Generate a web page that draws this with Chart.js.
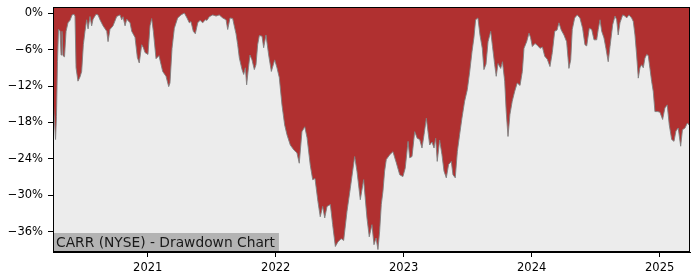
<!DOCTYPE html>
<html>
<head>
<meta charset="utf-8">
<script src="https://cdn.jsdelivr.net/npm/chart.js@4/dist/chart.umd.min.js"></script>
<style>
  html, body { margin: 0; padding: 0; background: #ffffff; }
  #wrap { width: 700px; height: 280px; position: relative; }
</style>
</head>
<body>
<div id="wrap"><canvas id="c" width="700" height="280"></canvas></div>
<script>
// Decimal-year dates (x) and drawdown in percent (y)
const years = [
  2020.260, 2020.272, 2020.280, 2020.287, 2020.295, 2020.303, 2020.315, 2020.323, 2020.330, 2020.338,
  2020.350, 2020.362, 2020.377, 2020.393, 2020.409, 2020.424, 2020.432, 2020.440, 2020.455, 2020.471,
  2020.484, 2020.497, 2020.510, 2020.523, 2020.534, 2020.549, 2020.562, 2020.573, 2020.596, 2020.612,
  2020.627, 2020.651, 2020.680, 2020.690, 2020.705, 2020.729, 2020.758, 2020.784, 2020.797, 2020.807,
  2020.823, 2020.836, 2020.862, 2020.875, 2020.901, 2020.919, 2020.934, 2020.953, 2020.966, 2020.979,
  2021.002, 2021.018, 2021.031, 2021.044, 2021.065, 2021.088, 2021.117, 2021.143, 2021.164, 2021.174,
  2021.190, 2021.208, 2021.234, 2021.260, 2021.286, 2021.307, 2021.325, 2021.338, 2021.356, 2021.372,
  2021.391, 2021.409, 2021.430, 2021.450, 2021.463, 2021.481, 2021.508, 2021.534, 2021.559, 2021.586,
  2021.612, 2021.625, 2021.643, 2021.664, 2021.676, 2021.690, 2021.703, 2021.716, 2021.737, 2021.750,
  2021.763, 2021.773, 2021.787, 2021.799, 2021.815, 2021.833, 2021.846, 2021.859, 2021.872, 2021.893,
  2021.906, 2021.924, 2021.945, 2021.966, 2021.992, 2022.010, 2022.028, 2022.049, 2022.070, 2022.088,
  2022.114, 2022.141, 2022.166, 2022.184, 2022.205, 2022.227, 2022.245, 2022.270, 2022.289, 2022.307,
  2022.330, 2022.348, 2022.367, 2022.383, 2022.401, 2022.427, 2022.445, 2022.466, 2022.487, 2022.512,
  2022.531, 2022.557, 2022.583, 2022.617, 2022.635, 2022.661, 2022.687, 2022.713, 2022.731, 2022.752,
  2022.768, 2022.784, 2022.799, 2022.812, 2022.825, 2022.838, 2022.851, 2022.864, 2022.891, 2022.916,
  2022.942, 2022.969, 2022.994, 2023.012, 2023.034, 2023.047, 2023.065, 2023.086, 2023.106, 2023.125,
  2023.143, 2023.159, 2023.177, 2023.190, 2023.203, 2023.221, 2023.237, 2023.250, 2023.262, 2023.281,
  2023.299, 2023.315, 2023.333, 2023.351, 2023.372, 2023.385, 2023.403, 2023.419, 2023.437, 2023.455,
  2023.476, 2023.497, 2023.516, 2023.534, 2023.549, 2023.562, 2023.580, 2023.596, 2023.614, 2023.627,
  2023.643, 2023.659, 2023.680, 2023.694, 2023.711, 2023.723, 2023.737, 2023.758, 2023.772, 2023.789,
  2023.801, 2023.815, 2023.830, 2023.848, 2023.867, 2023.887, 2023.909, 2023.927, 2023.940, 2023.961,
  2023.979, 2023.991, 2024.005, 2024.026, 2024.044, 2024.065, 2024.084, 2024.102, 2024.122, 2024.143,
  2024.161, 2024.180, 2024.198, 2024.213, 2024.231, 2024.252, 2024.273, 2024.291, 2024.305, 2024.317,
  2024.336, 2024.356, 2024.377, 2024.398, 2024.416, 2024.430, 2024.450, 2024.469, 2024.487, 2024.508,
  2024.520, 2024.534, 2024.547, 2024.565, 2024.580, 2024.598, 2024.612, 2024.633, 2024.651, 2024.664,
  2024.676, 2024.690, 2024.711, 2024.729, 2024.742, 2024.760, 2024.781, 2024.794, 2024.807, 2024.820,
  2024.833, 2024.846, 2024.859, 2024.872, 2024.885, 2024.899, 2024.911, 2024.924, 2024.937, 2024.950,
  2024.963, 2024.983, 2025.002, 2025.023, 2025.041, 2025.059, 2025.075, 2025.094, 2025.112, 2025.127,
  2025.145, 2025.164, 2025.178, 2025.198, 2025.216, 2025.229, 2025.237
];
const drawdown = [
  -13.8, -18, -20.8, -17, -8, -2.7, -2.9, -6.9, -3, -7,
  -7.2, -3, -1.6, -1.2, -0.3, -0.2, -0.5, -9, -11.2, -10.5,
  -9.6, -5.2, -3, -1.1, -2.6, -0.55, -2.1, -1.0, -0.2, -0.3,
  -1.1, -2.1, -3, -4.7, -2.7, -2.1, -0.55, -0.3, -1.1, -0.6,
  -2.1, -1.0, -1.6, -3, -4, -7.3, -8.2, -5.2, -5.7, -6.5,
  -6.8, -2.1, -0.9, -3, -7.5, -7.0, -9.6, -10.4, -12.1, -11.5,
  -5.8, -2.5, -0.8, -0.3, 0, -0.8, -1.6, -1.4, -3, -3.4,
  -1.6, -1.2, -1.6, -1.1, -1.2, -0.6, -0.3, -0.5, -0.3, -0.8,
  -1.1, -2.7, -0.8, -0.9, -2.1, -3.4, -5.2, -7.4, -9.3, -10.1,
  -9, -11.8, -9, -6.9, -7.7, -9.3, -8.5, -5.2, -3.7, -3.8,
  -5.7, -3.6, -6.9, -9.6, -7.7, -9, -10.6, -15.1, -18.4, -20,
  -21.7, -22.5, -23, -24.7, -19.5, -18.7, -20.5, -25, -27.4, -27.2,
  -31, -33.5, -31.8, -33.7, -31.8, -31.5, -34.8, -38.4, -37.6, -37.1,
  -37.4, -32.6, -28.8, -23.6, -26, -30.7, -27.4, -33.7, -36.8, -34.8,
  -38.1, -37, -38.9, -35.9, -31.5, -29.3, -26, -24.1, -23.3, -22.8,
  -24.6, -26.6, -26.9, -25.5, -21.1, -23.8, -23.6, -19.5, -20.6, -20.8,
  -22.2, -20, -17.3, -19.5, -21.7, -21.2, -22.2, -20.6, -24.4, -20.9,
  -23.3, -26, -27.1, -24.9, -24.4, -26.6, -27.1, -22.8, -20, -17.3,
  -14.5, -12.6, -9.6, -6.3, -4.0, -1.1, -0.8, -3.6, -5.8, -9.3,
  -8.4, -4.7, -3, -5.5, -8.5, -10.4, -8.3, -9.1, -8, -11.2,
  -16.2, -20.3, -16.7, -14.5, -12.9, -11.5, -11.9, -9.6, -5.8, -4.7,
  -3.3, -4.0, -5.5, -5.0, -5.3, -5.8, -5.6, -7.1, -7.6, -8.8,
  -6.5, -3, -2.8, -1.6, -2.8, -3.6, -4.7, -9.1, -7.7, -2.7,
  -0.8, -0.3, -0.8, -2.5, -5.2, -5.4, -2.5, -2.7, -4.4, -4.4,
  -2.7, -1.1, -3, -4.1, -5.8, -8, -5.5, -1.9, -0.5, -1.1,
  -3.6, -1.6, -0.3, -0.5, -0.8, -0.3, -0.8, -1.4, -3.6, -6.9,
  -10.7, -9, -8.5, -9, -7.4, -6.8, -7.0, -9.1, -11.2, -12.9,
  -16.2, -16.2, -16.3, -17.5, -15.6, -15.1, -18.4, -20.8, -21.1, -19.4,
  -18.9, -21.9, -19.2, -18.9, -18.1, -18.4, -17.5
];
const yTicks = [0, -6, -12, -18, -24, -30, -36];
const xTicks = [2021, 2022, 2023, 2024, 2025];
const chartLabel = 'CARR (NYSE) - Drawdown Chart';

const points = years.map((x, i) => ({ x: x, y: drawdown[i] }));
const FONT = 'DejaVu Sans';

const framePlugin = {
  id: 'frame',
  beforeDatasetsDraw(chart) {
    const a = chart.chartArea, ctx = chart.ctx;
    ctx.save();
    ctx.fillStyle = '#ececec';
    ctx.fillRect(a.left, a.top, a.right - a.left, a.bottom - a.top);
    ctx.restore();
  },
  afterDatasetsDraw(chart) {
    const a = chart.chartArea, ctx = chart.ctx;
    ctx.save();
    // label box
    ctx.font = '13.8px "' + FONT + '"';
    const w = ctx.measureText(chartLabel).width;
    ctx.fillStyle = '#b3b3b3';
    ctx.fillRect(a.left, a.bottom - 19, w + 7, 19);
    ctx.fillStyle = '#1a1a1a';
    ctx.textBaseline = 'middle';
    ctx.textAlign = 'left';
    ctx.fillText(chartLabel, a.left + 3, a.bottom - 9);
    // frame
    ctx.strokeStyle = '#000000';
    ctx.lineWidth = 1;
    ctx.strokeRect(Math.round(a.left) + 0.5, Math.round(a.top) + 0.5,
      Math.round(a.right - a.left) - 1, Math.round(a.bottom - a.top) - 1);
    ctx.restore();
  }
};

function noPad(scale) {
  scale.paddingTop = 0; scale.paddingBottom = 0;
  scale.paddingLeft = 0; scale.paddingRight = 0;
}

new Chart(document.getElementById('c'), {
  type: 'line',
  data: {
    datasets: [{
      data: points,
      fill: 'end',
      backgroundColor: '#b03030',
      borderColor: 'rgba(128,128,128,0.9)',
      borderWidth: 1,
      pointRadius: 0,
      tension: 0
    }]
  },
  options: {
    responsive: false,
    animation: false,
    layout: { padding: { left: 0, right: 10, top: 7, bottom: 0 } },
    plugins: { legend: { display: false }, tooltip: { enabled: false }, title: { display: false } },
    scales: {
      x: {
        type: 'linear',
        min: 2020.260,
        max: 2025.237,
        afterBuildTicks(scale) { scale.ticks = xTicks.map(v => ({ value: v })); },
        afterFit(scale) { scale.height = 28; noPad(scale); },
        grid: { display: true, drawOnChartArea: false, drawTicks: true, tickLength: 5, tickColor: '#000', tickWidth: 1 },
        border: { display: true, color: '#000', width: 1 },
        ticks: {
          autoSkip: false, maxRotation: 0, padding: 4, color: '#000',
          font: { family: FONT, size: 11.5 },
          callback: v => String(v)
        }
      },
      y: {
        type: 'linear',
        min: -39.3,
        max: 1.0,
        afterBuildTicks(scale) { scale.ticks = yTicks.map(v => ({ value: v })); },
        afterFit(scale) { scale.width = 53; noPad(scale); },
        grid: { display: true, drawOnChartArea: false, drawTicks: true, tickLength: 5, tickColor: '#000', tickWidth: 1 },
        border: { display: true, color: '#000', width: 1 },
        ticks: {
          autoSkip: false, padding: 5, color: '#000',
          font: { family: FONT, size: 11.5 },
          callback: v => (v === 0 ? '0%' : '\u2212' + Math.abs(v) + '%')
        }
      }
    }
  },
  plugins: [framePlugin]
});
</script>
</body>
</html>
